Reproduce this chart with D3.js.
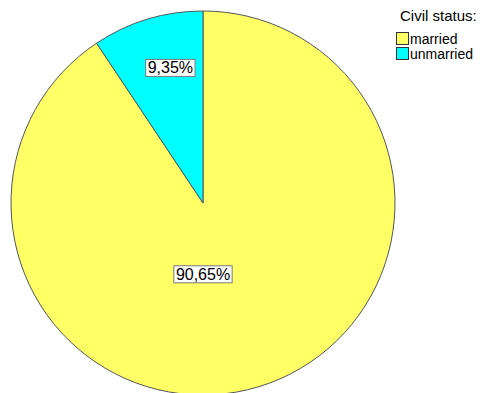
<!DOCTYPE html>
<html>
<head>
<meta charset="utf-8">
<script src="https://cdn.jsdelivr.net/npm/d3@7"></script>
<style>
  body { margin: 0; background: #fff; }
  text { font-family: Arial, "Liberation Sans", sans-serif; }
</style>
</head>
<body>
<script>
// data
var categories = ["married", "unmarried"];
var percents = [90.65, 9.35];
var labels = ["90,65%", "9,35%"];
var colors = ["#ffff66", "#00ffff"];

var w = 489, h = 393;
var cx = 203, cy = 203, r = 192;

var svg = d3.select("body").append("svg")
  .attr("width", w).attr("height", h);

var data = categories.map(function(c, i) {
  return { cat: c, value: percents[i], label: labels[i], color: colors[i] };
});

// married starts at 12 o'clock going clockwise, unmarried fills the rest
var pie = d3.pie().sort(null).value(function(d) { return d.value; });
var arcs = pie(data);
var arc = d3.arc().innerRadius(0).outerRadius(r);

var g = svg.append("g").attr("transform", "translate(" + cx + "," + cy + ")");

g.selectAll("path.slice")
  .data(arcs)
  .enter()
  .append("path")
  .attr("class", "slice")
  .attr("d", arc)
  .attr("fill", function(d) { return d.data.color; })
  .attr("stroke", "#555")
  .attr("stroke-width", 1);

// label offsets as a fraction of the radius (where SPSS drops them)
var labelPos = { married: [0, 0.37], unmarried: [-0.17, -0.705] };

var lab = g.selectAll("g.lab")
  .data(arcs)
  .enter()
  .append("g")
  .attr("class", "lab")
  .attr("transform", function(d) {
    var p = labelPos[d.data.cat];
    return "translate(" + (p[0] * r) + "," + (p[1] * r) + ")";
  });

lab.append("text")
  .attr("text-anchor", "middle")
  .attr("dy", "0.36em")
  .attr("font-size", "16px")
  .attr("fill", "#000")
  .text(function(d) { return d.data.label; });

lab.each(function() {
  var t = d3.select(this).select("text");
  var bb = t.node().getBBox();
  d3.select(this).insert("rect", "text")
    .attr("x", bb.x - 2)
    .attr("y", bb.y)
    .attr("width", bb.width + 4)
    .attr("height", bb.height)
    .attr("fill", "#fff")
    .attr("stroke", "#777")
    .attr("stroke-width", 1);
});

// legend
var legend = svg.append("g").attr("transform", "translate(396,0)");
legend.append("text")
  .attr("x", 4).attr("y", 21)
  .attr("font-size", "15px")
  .text("Civil status:");

var items = legend.selectAll("g.item")
  .data(data)
  .enter()
  .append("g")
  .attr("class", "item")
  .attr("transform", function(d, i) { return "translate(0," + (32 + i * 15) + ")"; });

items.append("rect")
  .attr("x", 0.5).attr("y", 0.5)
  .attr("width", 12).attr("height", 12)
  .attr("fill", function(d) { return d.color; })
  .attr("stroke", "#333");

items.append("text")
  .attr("x", 14).attr("y", 12)
  .attr("font-size", "14px")
  .text(function(d) { return d.cat; });
</script>
</body>
</html>
